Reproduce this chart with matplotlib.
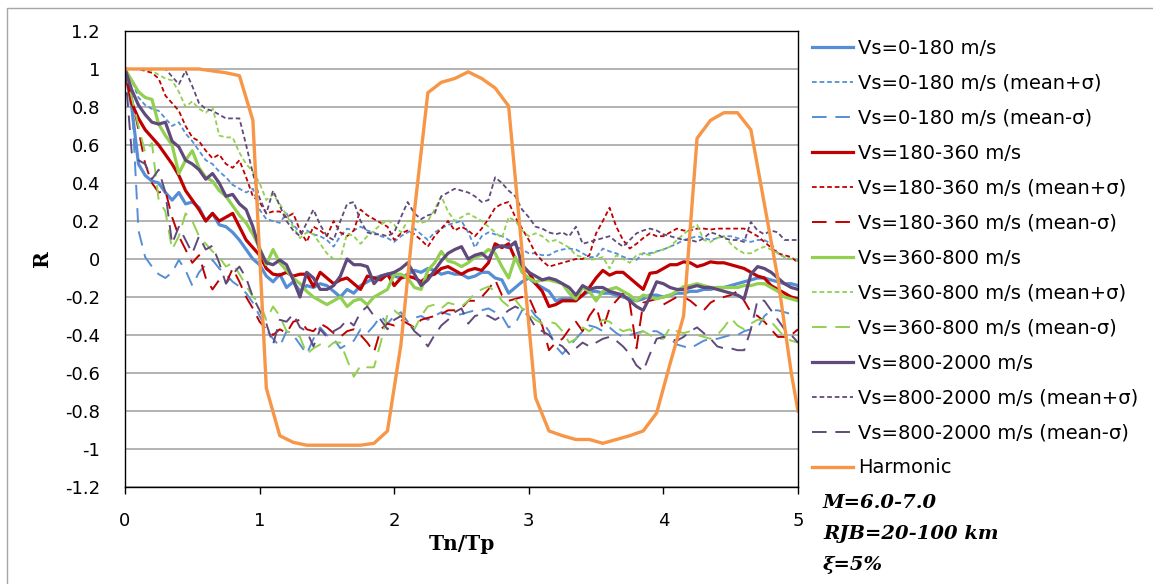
import numpy as np
import matplotlib
matplotlib.use("Agg")
import matplotlib.pyplot as plt
from matplotlib.patches import Rectangle

plt.rcParams["font.family"] = ["DejaVu Sans"]

# Normalised period axis (Tn/Tp), 0.05 step
tn_tp = np.round(np.arange(0, 5.0001, 0.05), 2)

# ---- Vs = 0-180 m/s ----
vs0_180_mean = [
    1.0, 0.80, 0.50, 0.44, 0.41, 0.40, 0.35, 0.31, 0.35, 0.29,
    0.30, 0.27, 0.20, 0.24, 0.18, 0.17, 0.14, 0.10, 0.05, 0.0,
    -0.03, -0.09, -0.12, -0.08, -0.15, -0.12, -0.17, -0.14, -0.15, -0.13,
    -0.14, -0.17, -0.20, -0.16, -0.18, -0.14, -0.12, -0.10, -0.09, -0.08,
    -0.09, -0.10, -0.08, -0.06, -0.07, -0.05, -0.06, -0.08, -0.07, -0.08,
    -0.08, -0.10, -0.09, -0.07, -0.07, -0.10, -0.11, -0.18, -0.15, -0.12,
    -0.10, -0.13, -0.15, -0.17, -0.22, -0.21, -0.21, -0.20, -0.19, -0.17,
    -0.17, -0.18, -0.18, -0.19, -0.20, -0.21, -0.22, -0.21, -0.19, -0.19,
    -0.20, -0.19, -0.18, -0.18, -0.17, -0.17, -0.16, -0.16, -0.15, -0.15,
    -0.14, -0.13, -0.12, -0.11, -0.10, -0.10, -0.11, -0.12, -0.13, -0.13, -0.14]
vs0_180_plus = [
    1.0, 0.94, 0.85, 0.81, 0.79, 0.78, 0.74, 0.70, 0.72, 0.66,
    0.62, 0.57, 0.52, 0.50, 0.46, 0.43, 0.39, 0.37, 0.35, 0.37,
    0.26, 0.21, 0.20, 0.19, 0.24, 0.18, 0.14, 0.15, 0.13, 0.12,
    0.10, 0.065, 0.12, 0.16, 0.15, 0.17, 0.15, 0.14, 0.12, 0.11,
    0.09, 0.12, 0.14, 0.16, 0.13, 0.10, 0.14, 0.16, 0.18, 0.19,
    0.20, 0.14, 0.06, 0.12, 0.14, 0.13, 0.12, 0.10, 0.07, 0.05,
    0.03, 0.03, 0.02, 0.02, 0.04, 0.05, 0.055, 0.05, 0.03, 0.01,
    0.01, 0.055, 0.04, 0.03, 0.012, 0.0, -0.005, 0.03, 0.03, 0.04,
    0.05, 0.065, 0.08, 0.10, 0.11, 0.12, 0.11, 0.10, 0.11, 0.12,
    0.12, 0.11, 0.10, 0.09, 0.10, 0.10, 0.08, 0.03, 0.01, 0.0, -0.01]
vs0_180_minus = [
    1.0, 0.84, 0.15, 0.01, -0.04, -0.08, -0.10, -0.07, -0.005, -0.06,
    -0.14, -0.07, -0.03, -0.005, -0.05, -0.08, -0.12, -0.145, -0.18, -0.23,
    -0.30, -0.37, -0.42, -0.46, -0.38, -0.40, -0.45, -0.50, -0.42, -0.36,
    -0.40, -0.42, -0.47, -0.45, -0.43, -0.37, -0.39, -0.35, -0.30, -0.34,
    -0.30, -0.28, -0.33, -0.31, -0.30, -0.32, -0.30, -0.28, -0.29, -0.30,
    -0.29, -0.28, -0.27, -0.27, -0.26, -0.28, -0.30, -0.36, -0.34, -0.27,
    -0.25, -0.30, -0.33, -0.38, -0.46, -0.50, -0.46, -0.42, -0.38, -0.35,
    -0.36, -0.38, -0.36, -0.39, -0.41, -0.40, -0.39, -0.38, -0.38, -0.38,
    -0.40, -0.42, -0.45, -0.46, -0.47, -0.45, -0.43, -0.42, -0.42, -0.41,
    -0.40, -0.40, -0.38, -0.37, -0.36, -0.30, -0.27, -0.27, -0.28, -0.29, -0.29]

# ---- Vs = 180-360 m/s ----
vs180_360_mean = [
    1.0, 0.82, 0.74, 0.68, 0.64, 0.60, 0.55, 0.50, 0.44, 0.36,
    0.31, 0.26, 0.20, 0.24, 0.20, 0.22, 0.24, 0.17, 0.10, 0.06,
    0.02, -0.05, -0.08, -0.085, -0.07, -0.09, -0.08, -0.08, -0.145, -0.07,
    -0.10, -0.13, -0.11, -0.10, -0.13, -0.16, -0.09, -0.10, -0.11, -0.08,
    -0.14, -0.10, -0.09, -0.10, -0.12, -0.09, -0.08, -0.05, -0.04, -0.06,
    -0.08, -0.06, -0.05, -0.06, -0.02, 0.08, 0.06, 0.08, 0.0, -0.04,
    -0.07, -0.13, -0.17, -0.25, -0.24, -0.22, -0.22, -0.22, -0.19, -0.15,
    -0.10, -0.06, -0.085, -0.07, -0.07, -0.10, -0.13, -0.16, -0.075, -0.07,
    -0.05, -0.03, -0.03, -0.015, -0.02, -0.04, -0.03, -0.015, -0.02, -0.02,
    -0.03, -0.04, -0.05, -0.07, -0.09, -0.10, -0.14, -0.16, -0.18, -0.20, -0.21]
vs180_360_plus = [
    1.0, 1.0, 1.0, 0.99, 0.98, 0.95, 0.86, 0.82, 0.78, 0.70,
    0.64, 0.62, 0.57, 0.53, 0.55, 0.50, 0.48, 0.52, 0.43, 0.33,
    0.30, 0.24, 0.25, 0.25, 0.22, 0.24, 0.15, 0.09, 0.17, 0.15,
    0.12, 0.20, 0.14, 0.12, 0.15, 0.26, 0.23, 0.21, 0.19, 0.17,
    0.10, 0.135, 0.15, 0.13, 0.10, 0.065, 0.12, 0.16, 0.20, 0.15,
    0.17, 0.15, 0.12, 0.16, 0.21, 0.27, 0.29, 0.30, 0.22, 0.16,
    0.10, 0.03, -0.01, -0.04, -0.03, -0.02, -0.01, 0.0, 0.0, 0.02,
    0.135, 0.20, 0.27, 0.17, 0.10, 0.055, 0.08, 0.11, 0.135, 0.12,
    0.12, 0.14, 0.16, 0.15, 0.15, 0.16, 0.16, 0.155, 0.16, 0.16,
    0.16, 0.16, 0.16, 0.14, 0.12, 0.09, 0.06, 0.03, 0.02, 0.01, -0.02]
vs180_360_minus = [
    1.0, 0.85, 0.68, 0.50, 0.40, 0.35, 0.36, 0.22, 0.12, 0.05,
    -0.02, 0.02, -0.10, -0.16, -0.11, -0.13, -0.05, -0.12, -0.20, -0.26,
    -0.33, -0.37, -0.40, -0.37, -0.39, -0.33, -0.32, -0.37, -0.38, -0.34,
    -0.36, -0.39, -0.41, -0.38, -0.37, -0.40, -0.44, -0.49, -0.37, -0.34,
    -0.35, -0.32, -0.34, -0.36, -0.32, -0.31, -0.30, -0.29, -0.27, -0.27,
    -0.26, -0.22, -0.22, -0.20, -0.16, -0.11, -0.19, -0.22, -0.21, -0.20,
    -0.20, -0.28, -0.35, -0.48, -0.44, -0.42, -0.37, -0.33, -0.38, -0.30,
    -0.25, -0.37, -0.26, -0.22, -0.18, -0.23, -0.47, -0.23, -0.22, -0.21,
    -0.24, -0.22, -0.20, -0.20, -0.22, -0.25, -0.27, -0.23, -0.21, -0.20,
    -0.19, -0.17, -0.22, -0.28, -0.30, -0.33, -0.37, -0.41, -0.41, -0.40, -0.37]

# ---- Vs = 360-800 m/s ----
vs360_800_mean = [
    1.0, 0.94, 0.88, 0.85, 0.84, 0.71, 0.65, 0.60, 0.45, 0.52,
    0.57, 0.48, 0.43, 0.41, 0.36, 0.33, 0.28, 0.23, 0.19, 0.13,
    0.06, -0.03, 0.05, -0.02, -0.06, -0.10, -0.13, -0.17, -0.20, -0.22,
    -0.24, -0.22, -0.20, -0.25, -0.22, -0.21, -0.24, -0.20, -0.18, -0.16,
    -0.08, -0.08, -0.10, -0.15, -0.16, -0.06, -0.02, 0.04, -0.01, -0.02,
    -0.04, -0.02, 0.01, 0.02, 0.05, 0.03, -0.04, -0.10, 0.01, -0.07,
    -0.10, -0.12, -0.11, -0.11, -0.12, -0.13, -0.18, -0.21, -0.15, -0.17,
    -0.22, -0.17, -0.16, -0.15, -0.17, -0.19, -0.22, -0.19, -0.20, -0.21,
    -0.20, -0.19, -0.17, -0.145, -0.14, -0.13, -0.14, -0.15, -0.15, -0.15,
    -0.15, -0.15, -0.14, -0.14, -0.13, -0.13, -0.15, -0.17, -0.20, -0.21, -0.22]
vs360_800_plus = [
    1.0, 1.0, 1.0, 1.0, 0.99, 0.97, 0.95, 0.94, 0.88, 0.80,
    0.83, 0.79, 0.77, 0.80, 0.65, 0.64, 0.64, 0.56, 0.50, 0.46,
    0.40, 0.31, 0.34, 0.29, 0.23, 0.17, 0.11, 0.14, 0.13, 0.08,
    0.03, 0.0, 0.0, 0.135, 0.12, 0.08, 0.12, 0.15, 0.18, 0.205,
    0.18, 0.14, 0.20, 0.20, 0.19, 0.20, 0.26, 0.33, 0.25, 0.20,
    0.22, 0.24, 0.22, 0.20, 0.17, 0.14, 0.11, 0.22, 0.20, 0.15,
    0.12, 0.135, 0.12, 0.09, 0.10, 0.08, 0.06, 0.02, 0.01, -0.005,
    0.0, 0.01, -0.05, 0.02, 0.0, -0.02, 0.02, 0.03, 0.02, 0.04,
    0.05, 0.065, 0.10, 0.13, 0.16, 0.18, 0.10, 0.09, 0.11, 0.12,
    0.08, 0.05, 0.03, 0.03, 0.05, 0.065, 0.05, 0.03, 0.01, 0.0, -0.01]
vs360_800_minus = [
    1.0, 0.85, 0.70, 0.56, 0.61, 0.31, 0.25, 0.05, 0.12, 0.24,
    0.20, 0.12, 0.08, 0.04, 0.01, -0.04, -0.02, -0.08, -0.14, -0.20,
    -0.23, -0.32, -0.25, -0.30, -0.38, -0.39, -0.41, -0.50, -0.47, -0.45,
    -0.47, -0.44, -0.44, -0.53, -0.62, -0.56, -0.57, -0.57, -0.44, -0.29,
    -0.27, -0.30, -0.33, -0.37, -0.30, -0.25, -0.24, -0.26, -0.23, -0.24,
    -0.25, -0.22, -0.18, -0.16, -0.145, -0.17, -0.22, -0.25, -0.215, -0.26,
    -0.29, -0.32, -0.34, -0.33, -0.34, -0.38, -0.44, -0.42, -0.36, -0.38,
    -0.35, -0.32, -0.33, -0.36, -0.38, -0.37, -0.40, -0.38, -0.40, -0.42,
    -0.42, -0.36, -0.38, -0.39, -0.38, -0.40, -0.41, -0.42, -0.40, -0.36,
    -0.31, -0.35, -0.37, -0.34, -0.32, -0.32, -0.33, -0.37, -0.41, -0.43, -0.44]

# ---- Vs = 800-2000 m/s ----
vs800_2000_mean = [
    1.0, 0.89, 0.81, 0.76, 0.72, 0.71, 0.72, 0.62, 0.59, 0.52,
    0.50, 0.47, 0.42, 0.45, 0.40, 0.33, 0.34, 0.29, 0.26, 0.17,
    0.05, -0.02, -0.03, -0.005, -0.03, -0.11, -0.20, -0.07, -0.10, -0.16,
    -0.16, -0.14, -0.09, 0.0, -0.03, -0.03, -0.04, -0.13, -0.09, -0.08,
    -0.07, -0.05, -0.02, -0.08, -0.14, -0.11, -0.06, -0.01, 0.03, 0.05,
    0.065, 0.0, 0.02, 0.03, 0.0, 0.06, 0.07, 0.06, 0.09, -0.03,
    -0.07, -0.09, -0.11, -0.10, -0.11, -0.13, -0.15, -0.19, -0.14, -0.16,
    -0.15, -0.15, -0.17, -0.18, -0.19, -0.22, -0.25, -0.27, -0.20, -0.12,
    -0.13, -0.15, -0.16, -0.16, -0.15, -0.14, -0.15, -0.15, -0.16, -0.17,
    -0.18, -0.19, -0.21, -0.08, -0.04, -0.05, -0.07, -0.10, -0.13, -0.15, -0.16]
vs800_2000_plus = [
    1.0, 1.0, 1.0, 1.0, 1.0, 1.0, 1.0, 0.96, 0.92, 0.99,
    0.91, 0.82, 0.79, 0.78, 0.76, 0.74, 0.74, 0.74, 0.60, 0.45,
    0.32, 0.24, 0.36, 0.28, 0.20, 0.15, 0.12, 0.19, 0.26, 0.18,
    0.12, 0.10, 0.20, 0.29, 0.30, 0.20, 0.14, 0.13, 0.13, 0.12,
    0.14, 0.22, 0.30, 0.24, 0.21, 0.23, 0.24, 0.33, 0.35, 0.37,
    0.36, 0.35, 0.33, 0.30, 0.31, 0.43, 0.40, 0.36, 0.33, 0.26,
    0.22, 0.17, 0.16, 0.14, 0.13, 0.14, 0.12, 0.17, 0.08, 0.09,
    0.10, 0.11, 0.12, 0.09, 0.065, 0.10, 0.135, 0.15, 0.16, 0.15,
    0.13, 0.12, 0.11, 0.10, 0.10, 0.09, 0.11, 0.14, 0.13, 0.11,
    0.10, 0.10, 0.09, 0.195, 0.15, 0.13, 0.15, 0.14, 0.10, 0.10, 0.10]
vs800_2000_minus = [
    1.0, 0.56, 0.52, 0.50, 0.42, 0.47, 0.35, 0.08, 0.17, 0.10,
    0.03, 0.12, 0.05, 0.07, -0.02, -0.13, -0.08, -0.04, -0.10, -0.20,
    -0.27, -0.34, -0.45, -0.32, -0.33, -0.29, -0.36, -0.38, -0.46, -0.37,
    -0.41, -0.38, -0.36, -0.32, -0.35, -0.28, -0.25, -0.30, -0.32, -0.37,
    -0.32, -0.30, -0.33, -0.38, -0.41, -0.46, -0.40, -0.35, -0.32, -0.28,
    -0.26, -0.34, -0.30, -0.29, -0.30, -0.32, -0.30, -0.27, -0.25, -0.27,
    -0.30, -0.36, -0.38, -0.40, -0.44, -0.46, -0.50, -0.47, -0.44, -0.46,
    -0.44, -0.42, -0.41, -0.43, -0.46, -0.50, -0.56, -0.59, -0.50, -0.42,
    -0.41, -0.42, -0.43, -0.41, -0.38, -0.36, -0.39, -0.42, -0.46, -0.47,
    -0.47, -0.48, -0.48, -0.37, -0.215, -0.22, -0.27, -0.32, -0.37, -0.40, -0.44]

# ---- Harmonic reference ----
harmonic_x = [0.0, 0.05, 0.15, 0.25, 0.35, 0.45, 0.55, 0.65, 0.75, 0.85, 0.95,
              1.05, 1.15, 1.25, 1.35, 1.45, 1.55, 1.65, 1.75, 1.85, 1.95,
              2.05, 2.15, 2.25, 2.35, 2.45, 2.55, 2.65, 2.75, 2.85, 2.95,
              3.05, 3.15, 3.25, 3.35, 3.45, 3.55, 3.65, 3.75, 3.85, 3.95,
              4.05, 4.15, 4.25, 4.35, 4.45, 4.55, 4.65, 4.75, 4.85, 4.95, 5.0]
harmonic_r = [1.0, 1.0, 1.0, 1.0, 1.0, 1.0, 1.0, 0.99, 0.98, 0.965, 0.73,
              -0.68, -0.93, -0.965, -0.98, -0.98, -0.98, -0.98, -0.98, -0.97, -0.905,
              -0.45, 0.25, 0.875, 0.93, 0.95, 0.985, 0.95, 0.90, 0.805, 0.04,
              -0.73, -0.905, -0.93, -0.95, -0.95, -0.97, -0.95, -0.93, -0.905, -0.81,
              -0.55, -0.30, 0.635, 0.73, 0.77, 0.77, 0.68, 0.29, -0.10, -0.60, -0.80]

groups = [
    ("Vs=0-180 m/s", "#558ED5", vs0_180_mean, vs0_180_plus, vs0_180_minus),
    ("Vs=180-360 m/s", "#C00000", vs180_360_mean, vs180_360_plus, vs180_360_minus),
    ("Vs=360-800 m/s", "#92D050", vs360_800_mean, vs360_800_plus, vs360_800_minus),
    ("Vs=800-2000 m/s", "#604A7B", vs800_2000_mean, vs800_2000_plus, vs800_2000_minus),
]

SHORT_DASH = (0, (2.6, 1.6))
LONG_DASH = (0, (7.5, 4.5))

W, H = 1153, 584
fig = plt.figure(figsize=(W / 100, H / 100), dpi=100)
fig.patch.set_facecolor("white")

# chart border
fig.add_artist(Rectangle((7 / W, -0.05), 1.2, 1 - 8 / H + 0.05, transform=fig.transFigure,
                         fill=False, edgecolor="#A6A6A6", linewidth=1.0))

ax = fig.add_axes([125 / W, (H - 487) / H, 673 / W, 456 / H])

for label, color, mean, plus, minus in groups:
    ax.plot(tn_tp, mean, color=color, lw=2.3, label=label, solid_joinstyle="round")
    ax.plot(tn_tp, plus, color=color, lw=1.3, linestyle=SHORT_DASH,
            label=f"{label} (mean+σ)")
    ax.plot(tn_tp, minus, color=color, lw=1.4, linestyle=LONG_DASH,
            label=f"{label} (mean-σ)")

ax.plot(harmonic_x, harmonic_r, color="#F79646", lw=2.4, label="Harmonic",
        solid_joinstyle="round")

ax.set_xlim(0, 5)
ax.set_ylim(-1.2, 1.2)
yt = np.round(np.arange(-1.2, 1.201, 0.2), 1)
ax.set_yticks(yt)
ax.set_yticklabels([f"{v:g}" if abs(v) > 1e-9 else "0" for v in yt])
ax.set_xticks(range(6))
ax.set_xticklabels([str(i) for i in range(6)])
ax.tick_params(axis="y", length=0, pad=18, labelsize=13)
ax.tick_params(axis="x", length=5, width=1, direction="out", pad=13, labelsize=13)
ax.grid(axis="y", color="#A6A6A6", lw=1.2)
ax.set_axisbelow(True)
for s in ax.spines.values():
    s.set_color("black")
    s.set_linewidth(1.0)

ax.set_xlabel("Tn/Tp", family="DejaVu Serif", fontweight="bold", fontsize=14.5, labelpad=3)
ax.set_ylabel("R", family="DejaVu Serif", fontweight="bold", fontsize=14.5, labelpad=9)

leg = ax.legend(loc="upper left", bbox_to_anchor=(812 / W, 1 - 39 / H),
                bbox_transform=fig.transFigure, frameon=False, fontsize=14,
                handlelength=2.1, handletextpad=0.26, labelspacing=0.82,
                borderpad=0, borderaxespad=0)

notes = ["M=6.0-7.0", "RJB=20-100 km", "ξ=5%"]
for i, t in enumerate(notes):
    fig.text(823 / W, 1 - (503 + 31 * i) / H, t, family="DejaVu Serif",
             fontweight="bold", fontstyle="italic", fontsize=14, va="center", ha="left")

fig.savefig("out.png", dpi=100)
